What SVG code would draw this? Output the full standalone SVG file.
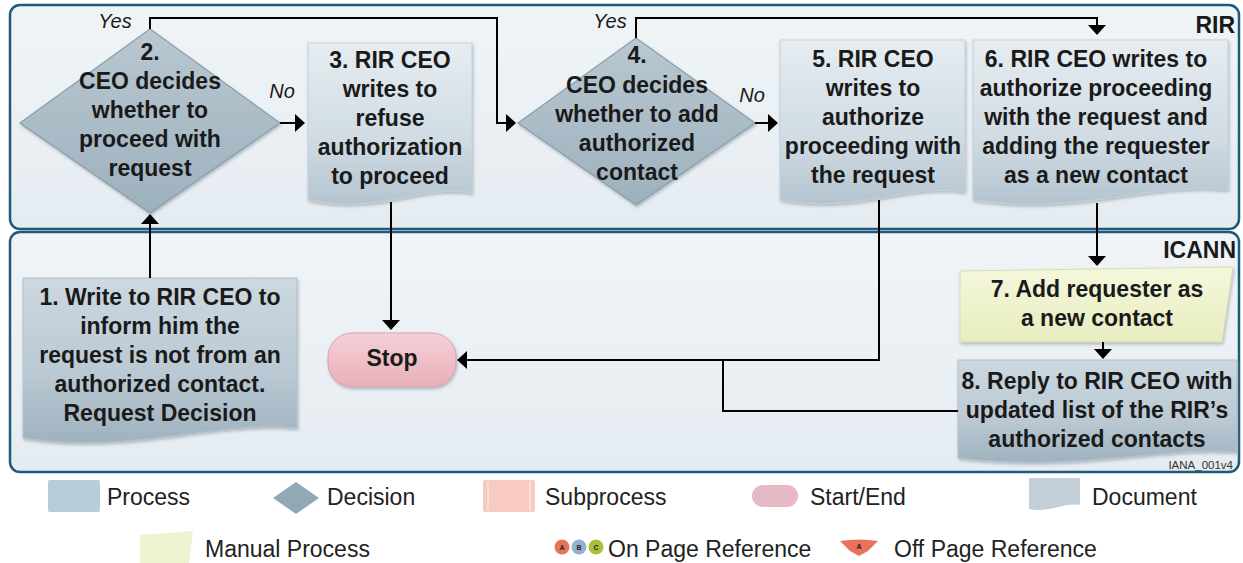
<svg xmlns="http://www.w3.org/2000/svg" width="1243" height="563" viewBox="0 0 1243 563">
<defs>
<linearGradient id="laneG" x1="0" y1="0" x2="0" y2="1"><stop offset="0" stop-color="#f0f4f7"/><stop offset="1" stop-color="#e5ecf1"/></linearGradient>
<linearGradient id="docG" x1="0" y1="0" x2="0" y2="1"><stop offset="0" stop-color="#e6edf2"/><stop offset="0.6" stop-color="#d0dbe3"/><stop offset="1" stop-color="#b4c4cf"/></linearGradient>
<linearGradient id="docD" x1="0" y1="0" x2="0" y2="1"><stop offset="0" stop-color="#cdd8e0"/><stop offset="0.6" stop-color="#b9c8d2"/><stop offset="1" stop-color="#9fb2bf"/></linearGradient>
<linearGradient id="decG" x1="0" y1="0" x2="0" y2="1"><stop offset="0" stop-color="#b9c8d1"/><stop offset="1" stop-color="#9db1bd"/></linearGradient>
<linearGradient id="stopG" x1="0" y1="0" x2="0" y2="1"><stop offset="0" stop-color="#f5d0d6"/><stop offset="1" stop-color="#e8afba"/></linearGradient>
<linearGradient id="manG" x1="0" y1="0" x2="0" y2="1"><stop offset="0" stop-color="#f5f7dc"/><stop offset="1" stop-color="#e8edc0"/></linearGradient>
<filter id="sh" x="-10%" y="-10%" width="120%" height="125%"><feDropShadow dx="1" dy="2" stdDeviation="1.5" flood-color="#6f7f8a" flood-opacity="0.45"/></filter>
<marker id="ah" markerUnits="userSpaceOnUse" markerWidth="11" markerHeight="18" refX="8" refY="9" orient="auto"><path d="M0,0 L10,9 L0,18 Z" fill="#000"/></marker>
<style>
.lane{fill:url(#laneG);stroke:#1f5a7e;stroke-width:2.5}
.doc{fill:url(#docG);stroke:#c5d0d8;stroke-width:1;filter:url(#sh)}
.docd{fill:url(#docD);stroke:#b3c2cc;stroke-width:1;filter:url(#sh)}
.dec{fill:url(#decG);stroke:#8a9fab;stroke-width:1.2;filter:url(#sh)}
.t{font-family:"Liberation Sans",Arial,sans-serif;font-weight:bold;font-size:23px;fill:#1a1a1a;text-anchor:middle}
.lbl{font-family:"Liberation Sans",Arial,sans-serif;font-weight:bold;font-size:23px;fill:#1a1a1a;text-anchor:end}
.yn{font-family:"Liberation Sans",Arial,sans-serif;font-style:italic;font-size:20px;fill:#1a1a1a;text-anchor:middle}
.conn{fill:none;stroke:#000;stroke-width:2}
.leg{font-family:"Liberation Sans",Arial,sans-serif;font-size:23px;fill:#222}
.cl{font-family:"Liberation Sans",Arial,sans-serif;font-size:7px;font-weight:bold;fill:#222;text-anchor:middle}
</style>
</defs>

<g id="lanes">
<rect id="lane-rir" class="lane" x="10" y="5" width="1229" height="224" rx="10"/>
<rect id="lane-icann" class="lane" x="10" y="232" width="1229" height="240" rx="10"/>
<text class="lbl" x="1235" y="33">RIR</text>
<text class="lbl" x="1236" y="258">ICANN</text>
</g>

<g id="n2">
<polygon class="dec" points="150,29 280,123 150,213 20,123"/>
<text class="t" x="150" y="60">2.</text>
<text class="t" x="150" y="89">CEO decides</text>
<text class="t" x="150" y="118">whether to</text>
<text class="t" x="150" y="147">proceed with</text>
<text class="t" x="150" y="176">request</text>
</g>

<g id="n3">
<path class="doc" d="M308,43 H472 V193 C420,184 380,215 308,200 Z"/>
<text class="t" x="390" y="68">3. RIR CEO</text>
<text class="t" x="390" y="97">writes to</text>
<text class="t" x="390" y="126">refuse</text>
<text class="t" x="390" y="155">authorization</text>
<text class="t" x="390" y="184">to proceed</text>
</g>

<g id="n4">
<polygon class="dec" points="636,38 755,123 636,205 518,123"/>
<text class="t" x="637" y="63">4.</text>
<text class="t" x="637" y="93">CEO decides</text>
<text class="t" x="637" y="122">whether to add</text>
<text class="t" x="637" y="151">authorized</text>
<text class="t" x="637" y="180">contact</text>
</g>

<g id="n5">
<path class="doc" d="M780,40 H965 V192 C905,183 860,214 780,200 Z"/>
<text class="t" x="873" y="67">5. RIR CEO</text>
<text class="t" x="873" y="96">writes to</text>
<text class="t" x="873" y="125">authorize</text>
<text class="t" x="873" y="154">proceeding with</text>
<text class="t" x="873" y="183">the request</text>
</g>

<g id="n6">
<path class="doc" d="M973,40 H1228 V190 C1145,182 1080,216 973,200 Z"/>
<text class="t" x="1096" y="67">6. RIR CEO writes to</text>
<text class="t" x="1096" y="96">authorize proceeding</text>
<text class="t" x="1096" y="125">with the request and</text>
<text class="t" x="1096" y="154">adding the requester</text>
<text class="t" x="1096" y="183">as a new contact</text>
</g>

<g id="n1">
<path class="docd" d="M23,278 H297 V428 C215,420 130,455 23,438 Z"/>
<text class="t" x="160" y="305">1. Write to RIR CEO to</text>
<text class="t" x="160" y="334">inform him the</text>
<text class="t" x="160" y="363">request is not from an</text>
<text class="t" x="160" y="392">authorized contact.</text>
<text class="t" x="160" y="421">Request Decision</text>
</g>

<g id="stop">
<rect x="328" y="333" width="128" height="54" rx="24" fill="url(#stopG)" stroke="#dba3ae" stroke-width="1" filter="url(#sh)"/>
<text class="t" x="392" y="366">Stop</text>
</g>

<g id="n7">
<path d="M960,271 L1233,267 L1222,342 L960,342 Z" fill="url(#manG)" stroke="#d8ddb0" stroke-width="1" filter="url(#sh)"/>
<text class="t" x="1097" y="297">7. Add requester as</text>
<text class="t" x="1097" y="326">a new contact</text>
</g>

<g id="n8">
<path class="docd" d="M958,360 H1237 V452 C1160,446 1080,472 958,458 Z"/>
<text class="t" x="1097" y="389">8. Reply to RIR CEO with</text>
<text class="t" x="1097" y="418">updated list of the RIR’s</text>
<text class="t" x="1097" y="447">authorized contacts</text>
</g>

<text x="1233" y="469" font-family="Liberation Sans, Arial, sans-serif" font-size="11.5" fill="#333" text-anchor="end">IANA_001v4</text>

<g id="connectors">
<path class="conn" d="M150,278 V216" marker-end="url(#ah)"/>
<path class="conn" d="M280,123 H303" marker-end="url(#ah)"/>
<path class="conn" d="M150,29 V18 H497 V123 H514" marker-end="url(#ah)"/>
<path class="conn" d="M391,202 V328" marker-end="url(#ah)"/>
<path class="conn" d="M755,123 H776" marker-end="url(#ah)"/>
<path class="conn" d="M636,38 V18 H1097 V33" marker-end="url(#ah)"/>
<path class="conn" d="M879,200 V360 H459" marker-end="url(#ah)"/>
<path class="conn" d="M958,411 H723 V360"/>
<path class="conn" d="M1097,203 V264" marker-end="url(#ah)"/>
<path class="conn" d="M1103,342 V357" marker-end="url(#ah)"/>
<text class="yn" x="115" y="28">Yes</text>
<text class="yn" x="282" y="98">No</text>
<text class="yn" x="610" y="28">Yes</text>
<text class="yn" x="752" y="102">No</text>
</g>

<g id="legend">
<rect x="48" y="480" width="52" height="32" rx="2" fill="#b9ccd9"/>
<text class="leg" x="107" y="505">Process</text>
<polygon points="273,498 296,482 319,498 296,514" fill="#93a8b5"/>
<text class="leg" x="327" y="505">Decision</text>
<rect x="483" y="480" width="52" height="32" rx="2" fill="#f7cbc3"/>
<line x1="488" y1="481" x2="488" y2="511" stroke="#fbe3de" stroke-width="1.5"/>
<line x1="530" y1="481" x2="530" y2="511" stroke="#fbe3de" stroke-width="1.5"/>
<text class="leg" x="545" y="505">Subprocess</text>
<rect x="752" y="485" width="46" height="22" rx="11" fill="#e6b9c4"/>
<text class="leg" x="810" y="505">Start/End</text>
<path d="M1029,478 H1080 V505 C1065,502 1050,513 1029,509 Z" fill="#c3d0d9"/>
<text class="leg" x="1092" y="505">Document</text>
<path d="M140,535 L193,531 L189,563 L140,563 Z" fill="#eef3cf"/>
<text class="leg" x="205" y="557">Manual Process</text>
<circle cx="562" cy="547" r="7.5" fill="#e8735a"/>
<text class="cl" x="562" y="549.5">A</text>
<circle cx="579" cy="547" r="7.5" fill="#94b2cf"/>
<text class="cl" x="579" y="549.5">B</text>
<circle cx="596" cy="547" r="7.5" fill="#a9c03c"/>
<text class="cl" x="596" y="549.5">C</text>
<text class="leg" x="608" y="557" font-size="22">On Page Reference</text>
<path d="M840,541 Q859,538 878,541 L868,551 L859,556 L850,551 Z" fill="#e8735a"/>
<text class="cl" x="859" y="548.5">A</text>
<text class="leg" x="894" y="557">Off Page Reference</text>
</g>
</svg>
